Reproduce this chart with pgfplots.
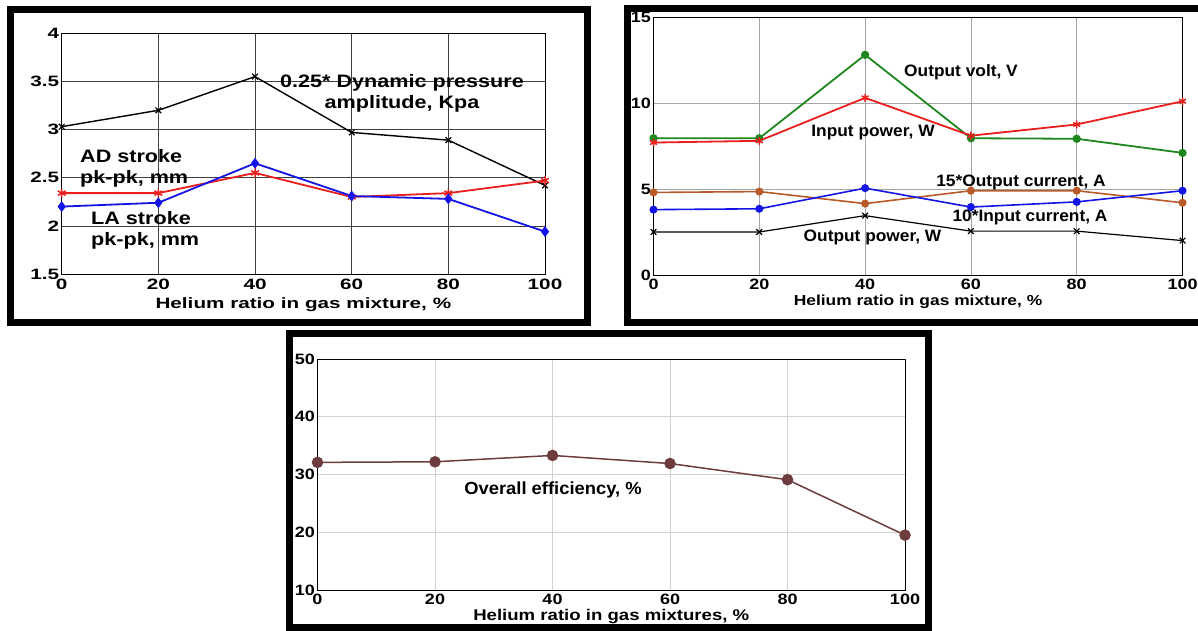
\documentclass[border=0pt]{standalone}
\usepackage{fontspec}
\setmainfont{Liberation Sans}
\newfontfamily\fwide[FakeStretch=1.38]{Liberation Sans}
\newfontfamily\fmid[FakeStretch=1.2]{Liberation Sans}
\newfontfamily\fnar[FakeStretch=1.05]{Liberation Sans}
\usepackage{pgfplots}
\pgfplotsset{compat=1.18}
\definecolor{mgreen}{RGB}{30,135,30}
\definecolor{mred}{RGB}{235,30,30}
\definecolor{mblue}{RGB}{20,20,230}
\definecolor{mbrown}{RGB}{185,90,40}
\definecolor{mmaroon}{RGB}{110,60,60}
\pgfplotsset{
  common/.style={
    scale only axis, clip=false,
    xmin=0, xmax=100, xtick={0,20,...,100},
    grid=major, major tick length=0pt,
    axis line style={line width=0.9pt},
    /pgf/number format/assume math mode=true,
    xlabel style={at={(axis description cs:0.5,0)},anchor=center},
  },
}
\begin{document}
\begin{tikzpicture}
\path[use as bounding box] (0,0) rectangle (1198pt,631pt);
% ---------------- top-left ----------------
\begin{axis}[common,
  at={(61.7pt,357pt)}, anchor=south west,
  width=483.3pt, height=240.7pt,
  ymin=1.5, ymax=4, ytick={1.5,2,...,4},
  grid style={black!75, line width=0.7pt},
  ticklabel style={font=\fwide\bfseries\fontsize{15}{18}\selectfont},
  yticklabel style={xshift=1pt},
  xticklabel style={yshift=-1pt},
  xlabel={\fwide\bfseries\fontsize{15}{18}\selectfont Helium ratio in gas mixture, \%},
  xlabel style={yshift=-31pt},
]
\addplot[black, line width=1.4pt, mark=x, mark size=4pt, mark options={line width=1.2pt}]
  coordinates {(0,3.03) (20,3.20) (40,3.55) (60,2.97) (80,2.89) (100,2.42)};
\addplot[mred, line width=1.8pt, mark=asterisk, mark size=4.5pt, mark options={line width=1.5pt}]
  coordinates {(0,2.34) (20,2.34) (40,2.55) (60,2.30) (80,2.34) (100,2.47)};
\addplot[mblue, line width=1.8pt, mark=diamond*, mark size=4pt]
  coordinates {(0,2.20) (20,2.24) (40,2.65) (60,2.31) (80,2.28) (100,1.94)};
\end{axis}
% ---------------- top-right ----------------
\begin{axis}[common,
  at={(653.5pt,356pt)}, anchor=south west,
  width=529pt, height=258pt,
  ymin=0, ymax=15, ytick={0,5,10,15},
  grid style={gray!70, line width=0.7pt},
  ticklabel style={font=\fmid\bfseries\fontsize{15}{18}\selectfont},
  yticklabel style={xshift=1pt},
  xlabel={\fmid\bfseries\fontsize{14.5}{17}\selectfont Helium ratio in gas mixture, \%},
  xlabel style={yshift=-27pt},
]
\addplot[mgreen, line width=1.8pt, mark=*, mark size=3.2pt]
  coordinates {(0,7.95) (20,7.95) (40,12.8) (60,7.95) (80,7.92) (100,7.1)};
\addplot[mred, line width=1.8pt, mark=asterisk, mark size=4pt, mark options={line width=1.5pt}]
  coordinates {(0,7.7) (20,7.8) (40,10.3) (60,8.1) (80,8.75) (100,10.1)};
\addplot[mbrown, line width=1.6pt, mark=*, mark size=3.2pt]
  coordinates {(0,4.8) (20,4.85) (40,4.15) (60,4.9) (80,4.9) (100,4.2)};
\addplot[mblue, line width=1.6pt, mark=*, mark size=3.2pt]
  coordinates {(0,3.8) (20,3.85) (40,5.05) (60,3.95) (80,4.25) (100,4.9)};
\addplot[black, line width=1.2pt, mark=x, mark size=4pt, mark options={line width=1.2pt}]
  coordinates {(0,2.5) (20,2.5) (40,3.45) (60,2.55) (80,2.55) (100,2.0)};
\end{axis}
% ---------------- bottom ----------------
\begin{axis}[common,
  at={(317.5pt,41pt)}, anchor=south west,
  width=587.5pt, height=231pt,
  ymin=10, ymax=50, ytick={10,20,...,50},
  grid style={gray!35, line width=0.7pt},
  ticklabel style={font=\fmid\bfseries\fontsize{15}{18}\selectfont},
  yticklabel style={xshift=1pt},
  xlabel={\fmid\bfseries\fontsize{15.5}{18}\selectfont Helium ratio in gas mixtures, \%},
  xlabel style={yshift=-27pt},
]
\addplot[mmaroon, line width=1.5pt, mark=*, mark size=5pt]
  coordinates {(0,32.1) (20,32.2) (40,33.3) (60,31.9) (80,29.1) (100,19.5)};
\end{axis}
% ---------------- annotations ----------------
\begin{scope}[every node/.style={inner sep=0pt}]
\node[align=center, font=\fmid\bfseries\fontsize{18}{21}\selectfont] at (402pt,538pt) {0.25* Dynamic pressure\\amplitude, Kpa};
\node[align=left, anchor=west, font=\fmid\bfseries\fontsize{18}{21}\selectfont] at (80pt,462.5pt) {AD stroke\\pk-pk, mm};
\node[align=left, anchor=west, font=\fmid\bfseries\fontsize{18}{21}\selectfont] at (91pt,400.7pt) {LA stroke\\pk-pk, mm};
\node[font=\fnar\bfseries\fontsize{16.5}{19}\selectfont] at (961pt,558.3pt) {Output volt, V};
\node[font=\fnar\bfseries\fontsize{16.5}{19}\selectfont] at (873pt,498.3pt) {Input power, W};
\node[font=\fnar\bfseries\fontsize{16.5}{19}\selectfont] at (1021pt,448.7pt) {15*Output current, A};
\node[font=\fnar\bfseries\fontsize{16.5}{19}\selectfont] at (1030pt,413.3pt) {10*Input current, A};
\node[font=\fnar\bfseries\fontsize{16.5}{19}\selectfont] at (872.5pt,393.7pt) {Output power, W};
\node[font=\fnar\bfseries\fontsize{17.5}{20}\selectfont] at (553pt,140.7pt) {Overall efficiency, \%};
\end{scope}
% ---------------- frames ----------------
\draw[line width=7pt] (10.5pt,308.5pt) rectangle (587.5pt,621.5pt);
\draw[line width=7pt] (627.5pt,308.5pt) rectangle (1210pt,622.5pt);
\draw[line width=7pt] (289.5pt,3.5pt) rectangle (928.5pt,297.5pt);
\end{tikzpicture}
\end{document}
